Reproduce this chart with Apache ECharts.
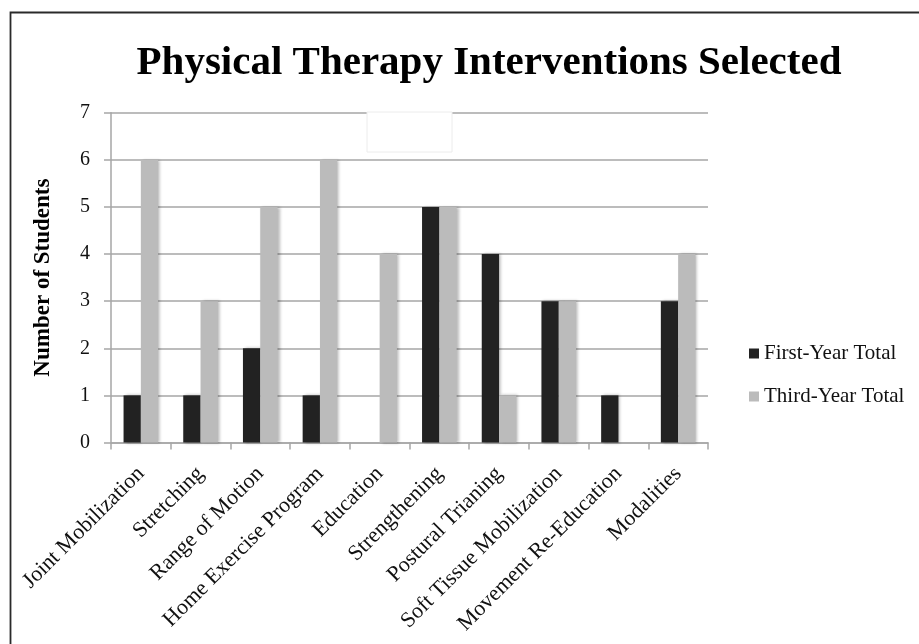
<!DOCTYPE html>
<html>
<head>
<meta charset="utf-8">
<script src="https://cdn.jsdelivr.net/npm/echarts@6/dist/echarts.min.js"></script>
<style>
  html, body { margin: 0; padding: 0; background: #fff; }
  #chart { width: 919px; height: 644px; }
</style>
</head>
<body>
<div id="chart"></div>
<script>
const categories = [
  'Joint Mobilization', 'Stretching', 'Range of Motion', 'Home Exercise Program',
  'Education', 'Strengthening', 'Postural Trianing', 'Soft Tissue Mobilization',
  'Movement Re-Education', 'Modalities'
];
const firstYearTotal = [1, 1, 2, 1, 0, 5, 4, 3, 1, 3];
const thirdYearTotal = [6, 3, 5, 6, 4, 5, 1, 3, 0, 4];
const seriesNames = ['First-Year Total', 'Third-Year Total'];
const titleText = 'Physical Therapy Interventions Selected';
const yAxisTitle = 'Number of Students';

const FONT = '"Liberation Serif", "Times New Roman", serif';
const GRID_COLOR = '#a6a6a6';

const chart = echarts.init(document.getElementById('chart'), null, { renderer: 'canvas' });

const barShadow = {
  shadowColor: 'rgba(0,0,0,0.28)',
  shadowBlur: 3,
  shadowOffsetX: 2,
  shadowOffsetY: 0
};

chart.setOption({
  animation: false,
  backgroundColor: '#ffffff',
  title: {
    text: titleText,
    left: 484,
    textAlign: 'center',
    top: 38,
    textStyle: {
      fontFamily: FONT,
      fontWeight: 'bold',
      fontSize: 41,
      color: '#000'
    }
  },
  legend: {
    orient: 'vertical',
    left: 749,
    top: 343,
    padding: 0,
    itemWidth: 10,
    itemHeight: 10,
    itemGap: 22,
    icon: 'rect',
    textStyle: { fontFamily: FONT, fontSize: 21, color: '#111' },
    data: seriesNames
  },
  grid: {
    left: 111,
    right: 211,
    top: 112.7,
    bottom: 201.5,
    containLabel: false
  },
  xAxis: {
    type: 'category',
    data: categories,
    boundaryGap: true,
    axisLine: { show: true, lineStyle: { color: GRID_COLOR, width: 1.5 } },
    axisTick: { show: true, length: 7, alignWithLabel: false, lineStyle: { color: GRID_COLOR, width: 1.5 } },
    axisLabel: {
      interval: 0,
      rotate: 45,
      margin: 28,
      fontFamily: FONT,
      fontSize: 22,
      color: '#111'
    }
  },
  yAxis: {
    type: 'value',
    min: 0,
    max: 7,
    interval: 1,
    name: yAxisTitle,
    nameLocation: 'middle',
    nameGap: 56,
    nameTextStyle: {
      fontFamily: FONT,
      fontWeight: 'bold',
      fontSize: 23,
      color: '#000'
    },
    axisLine: { show: true, lineStyle: { color: GRID_COLOR, width: 1.5 } },
    axisTick: { show: true, length: 7, lineStyle: { color: GRID_COLOR, width: 1.5 } },
    axisLabel: {
      margin: 21,
      fontFamily: FONT,
      fontSize: 20,
      color: '#111'
    },
    splitLine: { show: true, lineStyle: { color: GRID_COLOR, width: 1.5 } }
  },
  series: [
    {
      name: seriesNames[0],
      type: 'bar',
      data: firstYearTotal,
      barWidth: 17.3,
      barGap: '0%',
      itemStyle: Object.assign({ color: '#222222' }, barShadow)
    },
    {
      name: seriesNames[1],
      type: 'bar',
      data: thirdYearTotal,
      barWidth: 17.3,
      barGap: '0%',
      itemStyle: Object.assign({ color: '#bbbbbb' }, barShadow)
    }
  ],
  graphic: [
    {
      type: 'rect',
      silent: true,
      z: 100,
      shape: { x: 10.5, y: 12.5, width: 940, height: 700 },
      style: { fill: 'none', stroke: '#2a2a2a', lineWidth: 1.8 }
    },
    {
      type: 'rect',
      silent: true,
      z: 50,
      shape: { x: 367, y: 112, width: 85, height: 40 },
      style: { fill: '#ffffff', stroke: '#ececec', lineWidth: 1 }
    }
  ]
});
</script>
</body>
</html>
